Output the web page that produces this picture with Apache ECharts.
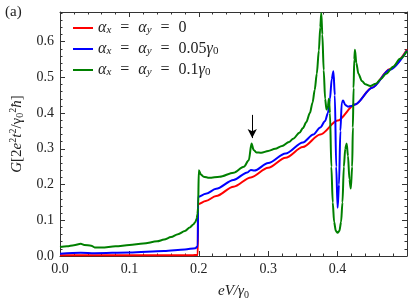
<!DOCTYPE html>
<html>
<head>
<meta charset="utf-8">
<script src="https://cdn.jsdelivr.net/npm/echarts@6/dist/echarts.min.js"></script>
<style>
html,body{margin:0;padding:0;background:#fff;}
#chart{width:415px;height:305px;}
</style>
</head>
<body>
<div id="chart"></div>
<script>
// ---- data ----
const xTicks = [0.0, 0.1, 0.2, 0.3, 0.4];
const yTicks = [0.0, 0.1, 0.2, 0.3, 0.4, 0.5, 0.6];

const seriesNames = ['a0', 'a005', 'a01'];

const redX = [0, 0.05, 0.1, 0.15, 0.19, 0.1985, 0.199, 0.21, 0.225, 0.25, 0.275, 0.3, 0.325, 0.35, 0.375, 0.4, 0.425, 0.45, 0.475, 0.5];
const redY = [0.002, 0.002, 0.002, 0.002, 0.002, 0.003, 0.145, 0.154, 0.168, 0.194, 0.22, 0.247, 0.275, 0.305, 0.34, 0.379, 0.424, 0.472, 0.523, 0.578];

const blueX = [0, 0.03, 0.05, 0.1, 0.15, 0.18, 0.195, 0.1985, 0.199, 0.21, 0.225, 0.25, 0.27, 0.275, 0.28, 0.3, 0.325, 0.35, 0.365, 0.375, 0.382, 0.386, 0.389, 0.3915, 0.394, 0.396, 0.398, 0.4, 0.402, 0.404, 0.406, 0.408, 0.411, 0.415, 0.42, 0.425, 0.45, 0.475, 0.5];
const blueY = [0.006, 0.009, 0.008, 0.01, 0.014, 0.018, 0.022, 0.027, 0.166, 0.174, 0.188, 0.213, 0.234, 0.241, 0.239, 0.26, 0.287, 0.318, 0.34, 0.36, 0.378, 0.40, 0.44, 0.495, 0.517, 0.45, 0.25, 0.135, 0.2, 0.35, 0.43, 0.435, 0.423, 0.418, 0.42, 0.424, 0.471, 0.521, 0.575];

const greenX = [0, 0.01, 0.02, 0.03, 0.035, 0.045, 0.05, 0.06, 0.08, 0.1, 0.12, 0.14, 0.15, 0.16, 0.17, 0.18, 0.187, 0.192, 0.195, 0.197, 0.198, 0.199, 0.2, 0.203, 0.207, 0.215, 0.23, 0.25, 0.265, 0.272, 0.276, 0.279, 0.283, 0.29, 0.3, 0.31, 0.32, 0.33, 0.336, 0.345, 0.35, 0.355, 0.36, 0.364, 0.367, 0.37, 0.373, 0.375, 0.3765, 0.378, 0.38, 0.382, 0.384, 0.386, 0.3875, 0.389, 0.391, 0.393, 0.395, 0.3975, 0.4, 0.4025, 0.405, 0.407, 0.409, 0.411, 0.413, 0.415, 0.417, 0.419, 0.421, 0.422, 0.423, 0.424, 0.425, 0.427, 0.43, 0.435, 0.44, 0.447, 0.455, 0.462, 0.47, 0.48, 0.49, 0.5];
const greenY = [0.025, 0.027, 0.03, 0.034, 0.031, 0.029, 0.024, 0.024, 0.027, 0.031, 0.035, 0.041, 0.046, 0.053, 0.061, 0.07, 0.08, 0.088, 0.095, 0.105, 0.117, 0.135, 0.24, 0.228, 0.222, 0.219, 0.222, 0.233, 0.25, 0.268, 0.315, 0.297, 0.29, 0.289, 0.294, 0.3, 0.308, 0.319, 0.328, 0.345, 0.358, 0.375, 0.4, 0.43, 0.465, 0.51, 0.575, 0.64, 0.68, 0.62, 0.52, 0.44, 0.41, 0.42, 0.44, 0.40, 0.25, 0.15, 0.095, 0.07, 0.065, 0.07, 0.095, 0.15, 0.25, 0.3, 0.315, 0.28, 0.215, 0.189, 0.25, 0.36, 0.47, 0.55, 0.577, 0.54, 0.51, 0.49, 0.481, 0.476, 0.482, 0.495, 0.51, 0.53, 0.552, 0.574];

// arrow annotation (data coordinates)
const arrowX = 0.277;
const arrowFrom = 0.395;
const arrowTo = 0.33;

const X_MIN = 0, X_MAX = 0.5, Y_MIN = 0, Y_MAX = 0.683;

function pairs(xs, ys) { return xs.map((x, i) => [x, ys[i]]); }

const FONT = 'Liberation Serif';
const axisColor = '#333';

const chart = echarts.init(document.getElementById('chart'), null, {renderer: 'canvas'});

function xAx(pos, major, labels) {
  return {
    type: 'value', position: pos, min: X_MIN, max: X_MAX,
    interval: major ? 0.1 : 0.02,
    axisLine: {show: major, onZero: false, lineStyle: {color: axisColor, width: 1}},
    axisTick: {show: true, inside: true, length: major ? 5 : 2.5, lineStyle: {color: axisColor, width: 1}},
    axisLabel: {show: labels, showMaxLabel: false, margin: 6, color: '#222', fontFamily: FONT, fontSize: 14,
      formatter: v => xTicks.some(t => Math.abs(t - v) < 1e-9) ? v.toFixed(1) : ''},
    splitLine: {show: false}
  };
}
function yAx(pos, major, labels) {
  return {
    type: 'value', position: pos, min: Y_MIN, max: Y_MAX,
    interval: major ? 0.1 : 0.02,
    axisLine: {show: major, onZero: false, lineStyle: {color: axisColor, width: 1}},
    axisTick: {show: true, inside: true, length: major ? 5 : 2.5, lineStyle: {color: axisColor, width: 1}},
    axisLabel: {show: labels, showMaxLabel: false, margin: 6, color: '#222', fontFamily: FONT, fontSize: 14,
      formatter: v => yTicks.some(t => Math.abs(t - v) < 1e-9) ? v.toFixed(1) : ''},
    splitLine: {show: false}
  };
}

const xAxes = [xAx('bottom', true, true), xAx('top', true, false), xAx('bottom', false, false), xAx('top', false, false)];
xAxes[0].name = '{i|eV}{r|/γ}{sb|0}';
xAxes[0].nameLocation = 'middle';
xAxes[0].nameGap = 27;
xAxes[0].nameTextStyle = {
  rich: {
    i: {fontFamily: FONT, fontStyle: 'italic', fontSize: 15, color: '#222'},
    r: {fontFamily: FONT, fontStyle: 'italic', fontSize: 15, color: '#222'},
    sb: {fontFamily: FONT, fontSize: 10, color: '#222', padding: [7, 0, 0, 0]}
  }
};
const yAxes = [yAx('left', true, true), yAx('right', true, false), yAx('left', false, false), yAx('right', false, false)];
yAxes[0].name = '{i|G}{r|[2}{i|e}{sp|2}{i|t}{sp|2}{r|/γ}{sb|0}{sp|2}{i|ħ}{r|]}';
yAxes[0].nameLocation = 'middle';
yAxes[0].nameGap = 32;
yAxes[0].nameRotate = 90;
yAxes[0].nameTextStyle = {
  rich: {
    i: {fontFamily: FONT, fontStyle: 'italic', fontSize: 15, color: '#222'},
    r: {fontFamily: FONT, fontSize: 15, color: '#222'},
    sp: {fontFamily: FONT, fontSize: 10, color: '#222', padding: [0, 0, 8, 0]},
    sb: {fontFamily: FONT, fontSize: 10, color: '#222', padding: [7, 0, 0, 0]}
  }
};

const legendLabels = {
  a0: '{g|α}{s|x}{t| }{eq|=}{t| }{g|α}{s|y}{t| }{eq|=}{t| 0}',
  a005: '{g|α}{s|x}{t| }{eq|=}{t| }{g|α}{s|y}{t| }{eq|=}{t| 0.05}{g|γ}{s0|0}',
  a01: '{g|α}{s|x}{t| }{eq|=}{t| }{g|α}{s|y}{t| }{eq|=}{t| 0.1}{g|γ}{s0|0}'
};

function lineSeries(name, xs, ys, color, extra) {
  return Object.assign({
    name: name, type: 'line', xAxisIndex: 0, yAxisIndex: 0,
    data: pairs(xs, ys), showSymbol: false, symbol: 'none',
    smooth: 0.3, smoothMonotone: 'x',
    lineStyle: {color: color, width: 2},
    itemStyle: {color: color},
    clip: true, z: 2
  }, extra || {});
}

const option = {
  animation: false,
  backgroundColor: '#fff',
  grid: {left: 60, right: 8, top: 12, bottom: 46, containLabel: false},
  xAxis: xAxes,
  yAxis: yAxes,
  legend: {
    show: true, orient: 'vertical', left: 68, top: 15, itemGap: 5,
    icon: 'rect', itemWidth: 20, itemHeight: 2,
    data: seriesNames,
    formatter: n => legendLabels[n],
    textStyle: {
      color: '#222',
      rich: {
        g: {fontFamily: FONT, fontStyle: 'italic', fontSize: 16, color: '#222'},
        t: {fontFamily: FONT, fontSize: 16, color: '#222'},
        eq: {fontFamily: FONT, fontSize: 16, color: '#222', padding: [0, 5, 0, 5]},
        s: {fontFamily: FONT, fontStyle: 'italic', fontSize: 11, color: '#222', padding: [5, 0, 0, 0]},
        s0: {fontFamily: FONT, fontSize: 11, color: '#222', padding: [5, 0, 0, 0]}
      }
    }
  },
  graphic: [{
    type: 'text', left: 5, top: 5,
    style: {text: '(a)', fontFamily: FONT, fontSize: 15, fill: '#222'}
  }],
  series: [
    lineSeries('a0', redX, redY, '#ff0000'),
    lineSeries('a005', blueX, blueY, '#0000ff'),
    lineSeries('a01', greenX, greenY, '#008000', {
      markLine: {
        silent: true, animation: false,
        symbol: ['none', 'arrow'], symbolSize: [7, 9],
        label: {show: false},
        lineStyle: {color: '#000', width: 1, type: 'solid'},
        data: [[{coord: [arrowX, arrowFrom]}, {coord: [arrowX, arrowTo]}]]
      }
    })
  ]
};
chart.setOption(option);
</script>
</body>
</html>
